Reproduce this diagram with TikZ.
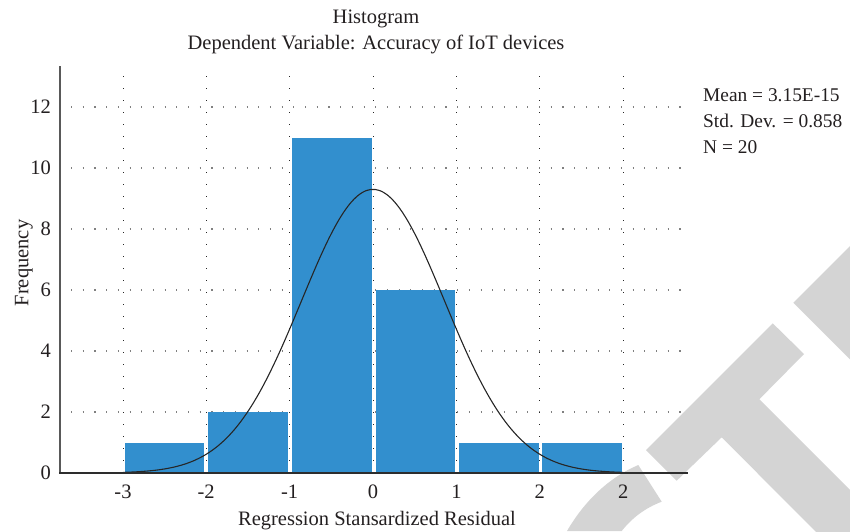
\documentclass[tikz,border=0pt]{standalone}
\usepackage{fontspec}
\setmainfont{Liberation Serif}
\definecolor{barblue}{RGB}{50,143,206}
\definecolor{wmgrey}{RGB}{212,212,212}
\definecolor{axisdark}{RGB}{45,45,45}
\definecolor{txt}{RGB}{35,31,32}
\tikzset{
  lbl/.style={font=\fontsize{20.5}{24}\selectfont, text=txt, inner sep=0pt},
  statlbl/.style={font=\fontsize{19.4}{24}\selectfont, text=txt, inner sep=0pt},
  bar/.style={fill=barblue, draw=none},
  hgrid/.style={draw=black!50, line width=1.1pt, dash pattern=on 1.1pt off 10.6pt},
  vgrid/.style={draw=black!85, line width=1pt, dash pattern=on 1pt off 11pt},
  wm/.style={fill=wmgrey, draw=none}
}
\begin{document}
\begin{tikzpicture}[x=1pt,y=-1pt]
\useasboundingbox (0,0) rectangle (850,531);
\begin{scope}
\clip (0,0) rectangle (850,531);
% watermark
\fill[wm] (638.3,465) .. controls (610,477) and (585,500) .. (567,531) -- (621.7,531) .. controls (632,518) and (645,508) .. (661.7,501.7) -- cycle;
\fill[wm] (772.7,323.3) -- (804,354) -- (759.3,399.3) -- (852,492) -- (852,533) -- (817,533) -- (721.7,437.3) -- (676.7,480.7) -- (646,450) -- cycle;
\fill[wm] (793.3,302.7) -- (852,244) -- (852,361.4) -- cycle;
\end{scope}
% horizontal grid
\foreach \yy in {107,168,229,290,351,412}
  \draw[hgrid] (71,\yy) -- (688,\yy);
% vertical grid
\foreach \xx in {123,206.2,289.6,373,456.4,539.8,623.2}
  \draw[vgrid] (\xx,76) -- (\xx,473);
% bars
\fill[bar] (124.5,442.5) rectangle (204,473);
\fill[bar] (208,412) rectangle (288,473);
\fill[bar] (291.8,137.5) rectangle (371.8,473);
\fill[bar] (375.5,290) rectangle (455.2,473);
\fill[bar] (459,442.5) rectangle (538.5,473);
\fill[bar] (542.3,442.5) rectangle (622,473);
% normal curve
\draw[line width=1.1pt, draw=black!85] plot[domain=-3:3, samples=120, smooth] ({373+83.4*\x},{473-283.6*exp(-\x*\x/1.4723)});
% axes
\draw[line width=1.6pt, draw=black!65] (60,66) -- (60,473);
\draw[line width=2pt, draw=axisdark] (59.2,473) -- (688,473);
% y tick labels
\foreach \v/\yy in {0/473,2/412,4/351,6/290,8/229,10/168,12/107}
  \node[lbl, anchor=base east] (yl\v) at (51,\yy+6.7) {\v};
% x tick labels
\node[lbl, anchor=base] (xl1) at (123,498.5) {-3};
\node[lbl, anchor=base] (xl2) at (206.2,498.5) {-2};
\node[lbl, anchor=base] (xl3) at (289.6,498.5) {-1};
\node[lbl, anchor=base] (xl4) at (373,498.5) {0};
\node[lbl, anchor=base] (xl5) at (456.4,498.5) {1};
\node[lbl, anchor=base] (xl6) at (539.8,498.5) {2};
\node[lbl, anchor=base] (xl7) at (623.2,498.5) {2};
% titles
\node[lbl, anchor=base] (t1) at (376,23.3) {Histogram};
\node[lbl, anchor=base] (t2) at (376,49.3) {Dependent Variable: Accuracy of IoT devices};
\node[lbl, anchor=base] (xt) at (377,525) {Regression Stansardized Residual};
\node[lbl, anchor=base, rotate=90] (yt) at (28.3,263) {Frequency};
% stats
\node[statlbl, anchor=base west] (s1) at (703,101.5) {Mean = 3.15E-15};
\node[statlbl, anchor=base west] (s2) at (703,127.5) {Std. Dev. = 0.858};
\node[statlbl, anchor=base west] (s3) at (703,153.5) {N = 20};
\end{tikzpicture}
\end{document}
